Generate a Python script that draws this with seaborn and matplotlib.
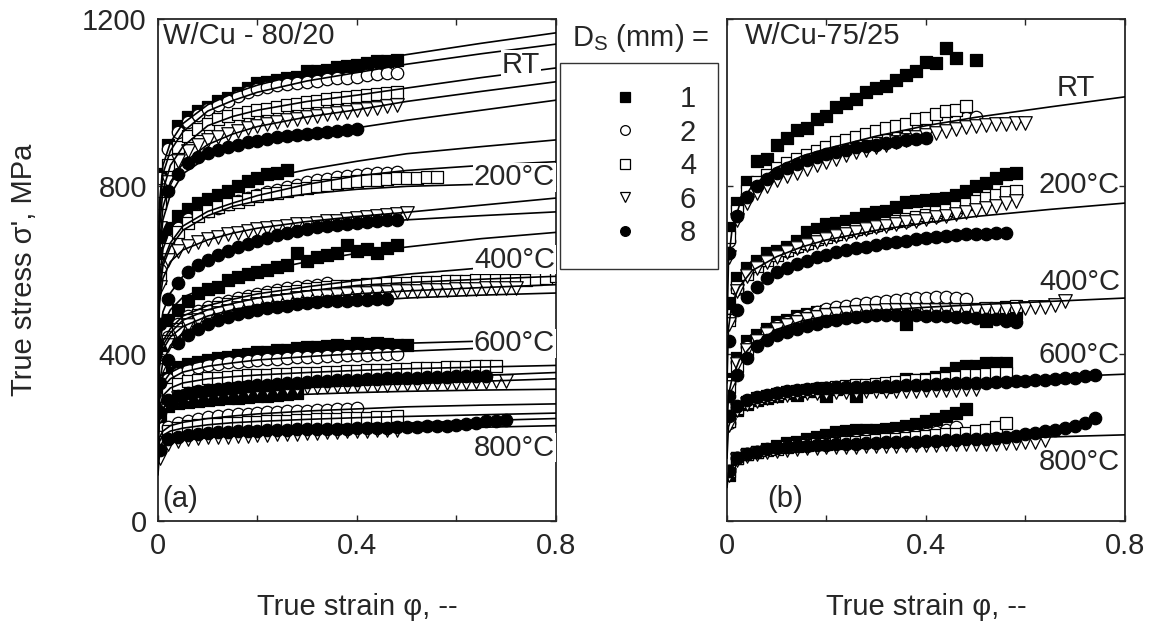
import numpy as np
import pandas as pd
import matplotlib
matplotlib.use('Agg')
import matplotlib.pyplot as plt
import seaborn as sns
from matplotlib.lines import Line2D

# strain grid of the measured points (same for every curve, series just stop earlier)
strain = [0.004, 0.02, 0.04, 0.06, 0.08, 0.10, 0.12, 0.14, 0.16, 0.18, 0.20,
          0.22, 0.24, 0.26, 0.28, 0.30, 0.32, 0.34, 0.36, 0.38, 0.40, 0.42,
          0.44, 0.46, 0.48, 0.50, 0.52, 0.54, 0.56, 0.58, 0.60, 0.62, 0.64,
          0.66, 0.68, 0.70, 0.72, 0.74, 0.76, 0.78, 0.80]
# strain grid of the fitted curves
fit_strain = [0, 0.003, 0.01, 0.025, 0.05, 0.1, 0.15, 0.2, 0.3, 0.4, 0.5, 0.65, 0.8]

sizes = [1, 2, 4, 6, 8]
temps = ['RT', '200°C', '400°C', '600°C', '800°C']

# ---- (a) W/Cu 80/20, true stress in MPa per specimen size D_S ----
a_RT = {
    1: [830, 900, 945, 965, 980, 990, 1003, 1012, 1022, 1035, 1046, 1050, 1055, 1058, 1062, 1075, 1075, 1078, 1085, 1088, 1090, 1094, 1100, 1100, 1102],
    2: [820, 890, 930, 955, 970, 985, 995, 1005, 1015, 1025, 1032, 1038, 1042, 1045, 1048, 1050, 1053, 1056, 1060, 1060, 1062, 1065, 1068, 1070, 1072],
    4: [760, 850, 895, 920, 937, 950, 960, 967, 973, 978, 982, 986, 990, 994, 998, 1002, 1005, 1008, 1011, 1014, 1016, 1018, 1020, 1022, 1025],
    6: [700, 810, 860, 885, 900, 910, 918, 926, 933, 940, 945, 950, 955, 959, 962, 965, 968, 972, 975, 978, 982, 985, 988, 992, 995],
    8: [680, 790, 830, 855, 870, 880, 888, 895, 900, 905, 909, 913, 917, 920, 922, 925, 927, 930, 932, 934, 936],
}
a_200 = {
    1: [640, 700, 730, 745, 760, 770, 780, 790, 800, 812, 820, 830, 833, 840],
    2: [600, 670, 700, 722, 732, 740, 748, 757, 765, 772, 780, 786, 792, 798, 804, 810, 815, 818, 822, 825, 828, 830, 832, 833, 834],
    4: [580, 650, 690, 712, 728, 740, 750, 757, 763, 770, 776, 781, 785, 789, 793, 797, 801, 804, 807, 810, 812, 814, 816, 818, 819, 820, 821, 822, 822],
    6: [560, 625, 645, 657, 667, 675, 680, 685, 689, 693, 697, 700, 703, 706, 709, 711, 713, 716, 718, 721, 724, 727, 730, 732, 735, 736],
    8: [470, 530, 570, 595, 612, 625, 636, 645, 654, 662, 670, 677, 684, 689, 693, 698, 702, 705, 708, 711, 713, 715, 717, 719, 720],
}
a_400 = {
    1: [420, 480, 505, 525, 545, 555, 560, 575, 583, 590, 595, 600, 608, 612, 640, 622, 630, 635, 640, 660, 645, 650, 640, 652, 660],
    2: [380, 440, 470, 490, 503, 512, 520, 527, 533, 538, 543, 548, 552, 556, 559, 562, 565, 568],
    4: [370, 430, 460, 480, 493, 503, 511, 518, 524, 530, 535, 540, 544, 548, 551, 554, 557, 559, 561, 563, 565, 566, 567, 568, 569, 570, 571, 572, 572, 573, 573, 574, 575, 575, 576, 576, 577, 577, 578, 580, 585],
    6: [360, 420, 450, 468, 480, 490, 497, 503, 509, 514, 518, 522, 526, 529, 532, 535, 537, 539, 541, 543, 545, 546, 547, 548, 549, 550, 551, 552, 553, 553, 554, 555, 555, 556, 556, 557, 557],
    8: [330, 385, 425, 445, 460, 472, 481, 488, 495, 500, 505, 509, 512, 515, 518, 521, 523, 525, 526, 527, 528, 529, 530, 530],
}
a_600 = {
    1: [320, 355, 368, 375, 380, 385, 390, 393, 397, 400, 403, 405, 408, 410, 413, 415, 415, 418, 420, 418, 425, 423, 425, 422, 420, 420],
    2: [300, 340, 355, 362, 368, 372, 376, 379, 381, 383, 385, 387, 388, 390, 391, 392, 393, 394, 395, 396, 397, 398, 399, 400, 400],
    4: [270, 315, 328, 334, 338, 341, 343, 345, 347, 348, 349, 350, 351, 352, 353, 354, 355, 356, 357, 358, 359, 360, 361, 362, 363, 364, 365, 366, 366, 367, 368, 369, 370, 370, 371],
    6: [250, 285, 295, 300, 304, 307, 309, 311, 313, 314, 315, 316, 317, 318, 319, 320, 321, 322, 322, 323, 324, 324, 325, 326, 327, 327, 328, 329, 329, 330, 330, 331, 332, 333, 334, 335],
    8: [260, 290, 300, 306, 310, 313, 315, 318, 320, 322, 324, 326, 328, 330, 331, 332, 334, 335, 336, 337, 338, 339, 340, 341, 342, 343, 343, 344, 345, 345, 346, 346, 347, 347],
}
a_800 = {
    1: [250, 275, 282, 285, 288, 290, 292, 293, 295, 296, 298, 300, 302, 303, 305],
    2: [200, 225, 235, 240, 245, 248, 251, 253, 255, 257, 258, 260, 261, 262, 263, 264, 265, 266, 267, 268, 270],
    4: [190, 215, 222, 226, 229, 231, 233, 234, 235, 236, 237, 238, 239, 240, 241, 242, 243, 244, 245, 246, 246, 247, 248, 249, 250],
    6: [150, 185, 192, 195, 198, 200, 201, 202, 203, 204, 205, 206, 207, 208, 209, 210, 211, 212, 213, 214, 215, 216, 217, 218, 218],
    8: [170, 195, 202, 206, 208, 210, 212, 213, 214, 215, 216, 217, 218, 218, 219, 219, 220, 220, 221, 221, 222, 222, 223, 223, 224, 224, 225, 226, 227, 228, 230, 232, 235, 238, 240, 242],
}
# fitted curves of (a), one per size, on fit_strain
a_fit_RT = {1: [500, 760, 850, 905, 950, 995, 1022, 1042, 1072, 1095, 1115, 1142, 1167],
            2: [480, 730, 830, 885, 930, 980, 1005, 1025, 1052, 1072, 1092, 1117, 1140],
            4: [450, 700, 790, 850, 895, 945, 967, 982, 1003, 1018, 1035, 1060, 1083],
            6: [420, 660, 750, 810, 855, 900, 925, 943, 966, 983, 1003, 1027, 1050],
            8: [400, 640, 720, 780, 830, 870, 892, 908, 925, 940, 958, 982, 1006]}
a_fit_200 = {1: [380, 580, 650, 700, 735, 770, 795, 815, 840, 860, 878, 895, 911],
             2: [360, 560, 620, 665, 705, 740, 760, 778, 805, 825, 838, 850, 859],
             4: [350, 540, 610, 655, 695, 730, 752, 765, 782, 793, 800, 805, 808],
             6: [340, 520, 580, 620, 648, 672, 688, 700, 716, 728, 738, 755, 772],
             8: [300, 440, 500, 545, 585, 625, 650, 668, 695, 710, 720, 730, 739]}
a_fit_400 = {1: [300, 420, 470, 505, 535, 560, 580, 595, 620, 640, 655, 675, 690],
             2: [280, 390, 430, 460, 490, 515, 530, 543, 560, 575, 590, 605, 620],
             4: [270, 380, 420, 450, 480, 505, 520, 533, 550, 563, 570, 578, 585],
             6: [260, 370, 410, 440, 465, 490, 505, 516, 532, 543, 550, 558, 565],
             8: [230, 330, 380, 420, 450, 475, 490, 502, 515, 525, 533, 540, 545]}
a_fit_600 = {1: [220, 300, 330, 355, 370, 385, 395, 402, 412, 420, 425, 430, 432],
             2: [210, 290, 320, 340, 356, 370, 378, 385, 393, 400, 406, 413, 420],
             4: [200, 270, 300, 318, 330, 340, 345, 349, 355, 360, 364, 368, 372],
             6: [180, 245, 270, 285, 295, 305, 310, 314, 319, 324, 328, 334, 340],
             8: [190, 260, 285, 297, 304, 312, 318, 322, 330, 337, 342, 348, 355]}
a_fit_800 = {1: [180, 240, 260, 275, 283, 290, 295, 298, 303, 307, 310, 313, 315],
             2: [150, 200, 215, 228, 236, 245, 251, 256, 263, 268, 273, 277, 280],
             4: [140, 190, 205, 215, 222, 230, 235, 238, 243, 247, 250, 254, 258],
             6: [110, 160, 180, 188, 194, 200, 203, 206, 211, 215, 219, 224, 228],
             8: [130, 175, 190, 198, 204, 210, 214, 217, 222, 228, 234, 240, 245]}

# ---- (b) W/Cu 75/25 ----
b_RT = {
    1: [700, 760, 810, 860, 865, 900, 915, 935, 940, 960, 968, 990, 1000, 1010, 1025, 1035, 1040, 1055, 1065, 1075, 1098, 1095, 1130, 1108, None, 1102],
    2: [670, 735, 780, 805, 823, 838, 850, 860, 870, 880, 888, 896, 903, 910, 916, 922, 928, 933, 938, 943, 947, 952, 956, 960, 963, 966],
    4: [680, 740, 790, 810, 828, 844, 855, 865, 875, 885, 895, 905, 912, 918, 925, 932, 940, 945, 950, 960, 963, 972, 980, 983, 993],
    6: [630, 720, 760, 785, 800, 815, 825, 833, 842, 850, 858, 866, 874, 882, 888, 895, 900, 906, 912, 918, 922, 927, 932, 937, 941, 945, 947, 949, 950, 951, 952],
    8: [640, 730, 775, 800, 818, 832, 843, 853, 862, 870, 877, 883, 888, 893, 897, 900, 904, 907, 910, 913, 915],
}
b_200 = {
    1: [520, 580, 605, 622, 640, 645, 655, 670, 690, 698, 710, 712, 718, 725, 735, 738, 742, 750, 762, 765, 767, 770, 772, 780, 788, 800, 808, 820, 830, 832],
    2: [480, 555, 590, 610, 624, 636, 646, 655, 663, 671, 678, 684, 690, 695, 700, 705, 710, 714, 718, 722, 726, 730, 734, 738],
    4: [480, 560, 590, 610, 625, 637, 648, 657, 665, 673, 680, 687, 693, 698, 703, 708, 713, 718, 722, 727, 732, 738, 744, 750, 758, 765, 772, 780, 786, 788],
    6: [470, 550, 585, 605, 620, 632, 643, 652, 660, 668, 675, 681, 687, 692, 697, 702, 706, 710, 714, 718, 722, 726, 730, 734, 738, 743, 748, 754, 760, 765],
    8: [430, 505, 536, 560, 580, 596, 605, 615, 622, 630, 637, 643, 648, 652, 656, 660, 664, 667, 670, 673, 676, 679, 682, 684, 685, 686, 687, 688, 688],
}
b_400 = {
    1: [340, 390, 430, 445, 460, 475, 480, 490, 495, 500, 502, 505, 505, 505, 506, 506, 505, 504, 470, 500, 502, 500, 502, 500, 500, 498, 478, 490, 495, 497],
    2: [330, 380, 415, 435, 452, 465, 475, 485, 493, 500, 506, 511, 515, 518, 521, 524, 526, 528, 530, 532, 534, 536, 535, 532, 530],
    4: [320, 370, 410, 432, 448, 460, 470, 478, 485, 490, 494, 497, 500, 502, 503, 504, 505, 506, 507, 508, 508, 508, 508, 507, 507, 508, 509, 510, 512, 513],
    6: [320, 375, 410, 430, 446, 458, 468, 476, 483, 488, 492, 495, 498, 500, 502, 503, 504, 505, 505, 505, 505, 505, 505, 505, 505, 505, 506, 506, 507, 508, 509, 511, 512, 516, 527],
    8: [300, 350, 390, 418, 432, 445, 453, 460, 467, 472, 477, 481, 485, 488, 490, 492, 493, 493, 493, 492, 491, 490, 489, 488, 487, 486, 484, 482, 479, 476],
}
b_600 = {
    1: [240, 265, 280, 290, 295, 300, 305, 302, 310, 312, 300, 315, 318, 300, 320, 325, 320, 330, 340, 338, 340, 345, 355, 365, 370, 370, 378, 378, 378],
    2: [235, 270, 286, 294, 300, 305, 308, 311, 313, 315, 317, 318, 320, 321, 322, 323, 325, 326, 328, 330, 332, 334, 336, 338],
    4: [240, 270, 285, 293, 299, 304, 308, 311, 314, 316, 318, 320, 322, 324, 326, 328, 330, 332, 334, 336, 338, 340, 342, 345, 348, 350, 352, 354, 355],
    6: [230, 265, 280, 288, 294, 298, 301, 303, 305, 306, 307, 308, 309, 309, 310, 310, 311, 311, 312, 312, 313, 313, 314, 314, 315, 316],
    8: [250, 275, 290, 297, 302, 306, 310, 313, 316, 318, 319, 320, 320, 321, 321, 322, 322, 323, 324, 325, 326, 327, 328, 329, 330, 330, 331, 332, 333, 334, 335, 336, 337, 339, 341, 343, 346, 348],
}
b_800 = {
    1: [110, 150, 160, 165, 172, 180, 186, 190, 195, 201, 205, 212, 215, 218, 218, 218, 220, 222, 228, 232, 238, 243, 250, 258, 268],
    2: [120, 150, 160, 166, 170, 174, 177, 180, 183, 185, 187, 189, 191, 193, 195, 197, 199, 201, 203, 205, 208, 212, 218, 225],
    4: [120, 150, 160, 166, 170, 173, 176, 179, 181, 183, 185, 187, 189, 190, 192, 193, 195, 197, 199, 201, 203, 205, 207, 209, 211, 214, 218, 225, 234],
    6: [110, 145, 155, 160, 164, 167, 170, 172, 174, 175, 176, 177, 178, 178, 179, 179, 180, 180, 181, 181, 182, 182, 183, 183, 184, 184, 185, 185, 186, 187, 188, 190, 193],
    8: [120, 150, 160, 166, 171, 175, 177, 179, 180, 181, 182, 183, 184, 185, 186, 187, 188, 189, 189, 190, 191, 192, 193, 194, 195, 196, 197, 199, 200, 203, 207, 211, 214, 217, 222, 226, 235, 246],
}
# one fitted curve per temperature in (b)
b_fit = {'RT': [450, 620, 695, 755, 800, 845, 872, 890, 920, 945, 965, 990, 1014],
         '200°C': [330, 460, 520, 560, 598, 632, 655, 672, 695, 713, 728, 745, 760],
         '400°C': [220, 300, 340, 385, 420, 458, 478, 490, 503, 511, 517, 525, 533],
         '600°C': [150, 225, 250, 272, 290, 305, 313, 318, 325, 331, 337, 344, 351],
         '800°C': [80, 115, 135, 150, 163, 172, 178, 182, 188, 193, 196, 201, 206]}

markers = {1: ('s', 'black'), 2: ('o', 'white'), 4: ('s', 'white'),
           6: ('v', 'white'), 8: ('o', 'black')}


def to_frame(groups):
    rows = []
    for temp, grp in zip(temps, groups):
        for size, vals in grp.items():
            for e, s in zip(strain, vals):
                rows.append((temp, size, e, np.nan if s is None else s))
    return pd.DataFrame(rows, columns=['temp', 'size', 'strain', 'stress'])


df_a = to_frame([a_RT, a_200, a_400, a_600, a_800])
df_b = to_frame([b_RT, b_200, b_400, b_600, b_800])

sns.set_style('ticks')
plt.rcParams['font.family'] = ['Liberation Sans', 'DejaVu Sans']
plt.rcParams['mathtext.fontset'] = 'custom'
plt.rcParams['mathtext.rm'] = 'Liberation Sans'
plt.rcParams['mathtext.it'] = 'Liberation Sans'
fs = 21

fig = plt.figure(figsize=(11.53, 6.32), dpi=100)
ax_a = fig.add_axes([0.1370, 0.1756, 0.3452, 0.7943])
ax_b = fig.add_axes([0.6305, 0.1756, 0.3452, 0.7943])


def draw_points(ax, df):
    for size in sizes:
        m, face = markers[size]
        sub = df[df['size'] == size].dropna()
        sns.scatterplot(data=sub, x='strain', y='stress', marker=m, color=face,
                        edgecolor='black', linewidth=0.9,
                        s=95 if m == 'v' else 80, ax=ax,
                        legend=False, zorder=2)


draw_points(ax_a, df_a)
draw_points(ax_b, df_b)

for grp in [a_fit_RT, a_fit_200, a_fit_400, a_fit_600, a_fit_800]:
    for size, vals in grp.items():
        sns.lineplot(x=fit_strain, y=vals, color='black', lw=1.2, ax=ax_a,
                     estimator=None, sort=False, zorder=3)
for temp in temps:
    sns.lineplot(x=fit_strain, y=b_fit[temp], color='black', lw=1.2, ax=ax_b,
                 estimator=None, sort=False, zorder=3)

for ax in [ax_a, ax_b]:
    ax.set_xlim(0, 0.8)
    ax.set_ylim(0, 1200)
    ax.set_xticks([0, 0.4, 0.8])
    ax.set_xticklabels(['0', '0.4', '0.8'])
    ax.set_xticks([0.2, 0.6], minor=True)
    ax.set_yticks([0, 400, 800, 1200])
    ax.tick_params(which='both', direction='in', top=True, right=True,
                   length=4, width=1, labelsize=fs, pad=8)
    for sp in ax.spines.values():
        sp.set_linewidth(1.3)
    ax.set_xlabel('True strain φ, --', fontsize=fs, labelpad=24)
    ax.set_ylabel('')

ax_a.set_yticklabels(['0', '400', '800', '1200'])
ax_b.set_yticklabels([])
ax_a.set_ylabel("True stress σ', MPa", fontsize=fs, labelpad=32)

ax_a.text(0.012, 0.995, 'W/Cu - 80/20', transform=ax_a.transAxes,
          fontsize=fs, va='top', ha='left')
ax_a.text(0.01, 0.015, '(a)', transform=ax_a.transAxes, fontsize=fs,
          va='bottom', ha='left')
ax_b.text(0.045, 0.995, 'W/Cu-75/25', transform=ax_b.transAxes,
          fontsize=fs, va='top', ha='left')
ax_b.text(0.10, 0.015, '(b)', transform=ax_b.transAxes, fontsize=fs,
          va='bottom', ha='left')

box = dict(facecolor='white', edgecolor='none', pad=0.5)
for txt, x, y in [('RT', 0.768, 1090), ('200°C', 0.798, 822), ('400°C', 0.798, 625),
                  ('600°C', 0.798, 425), ('800°C', 0.798, 175)]:
    ax_a.text(x, y, txt, fontsize=fs, ha='right', va='center', bbox=box, zorder=5)
for txt, x, y in [('RT', 0.74, 1035), ('200°C', 0.79, 803), ('400°C', 0.79, 572),
                  ('600°C', 0.79, 397), ('800°C', 0.79, 141)]:
    ax_b.text(x, y, txt, fontsize=fs, ha='right', va='center', zorder=5)

handles = []
for size in sizes:
    m, face = markers[size]
    handles.append(Line2D([], [], ls='', marker=m, mfc=face, mec='black',
                          mew=0.9, ms=7))
leg = fig.legend(handles, [str(s) for s in sizes], loc='upper left',
                 bbox_to_anchor=(0.486, 0.900), fontsize=fs, frameon=True,
                 fancybox=False, edgecolor='black', handlelength=2.9,
                 handletextpad=0.45, borderpad=0.75, labelspacing=0.19,
                 borderaxespad=0)
leg.get_frame().set_linewidth(1.0)
fig.text(0.556, 0.94, r'D$_{\rm S}$ (mm) =', fontsize=fs, ha='center', va='center')

plt.savefig('out.png', dpi=100)
